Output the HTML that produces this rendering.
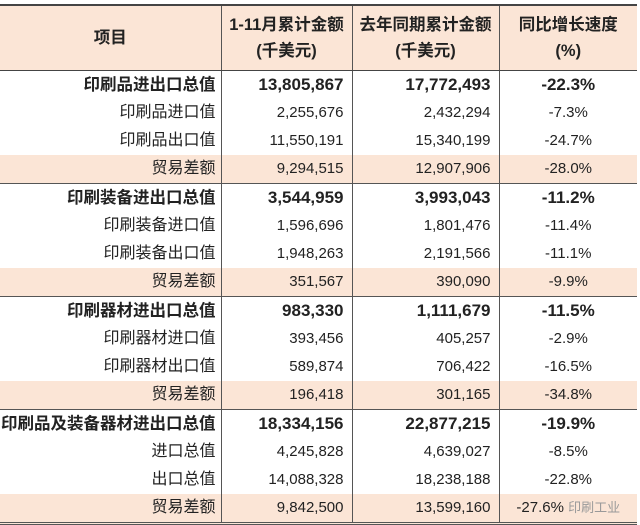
<!DOCTYPE html>
<html><head><meta charset="utf-8"><style>
body{margin:0;background:#fff;width:640px;height:523px;overflow:hidden;font-family:"Liberation Sans","Noto Sans CJK SC",sans-serif;color:#222}
table{position:absolute;left:0;top:4px;width:637px;border-collapse:collapse;table-layout:fixed}
td{padding:0;height:28px;font-size:15px;line-height:28px;white-space:nowrap}
col.c0{width:221px}col.c1{width:131px}col.c2{width:147px}col.c3{width:138px}
td:nth-child(1){text-align:right;padding-right:5px;border-right:1.5px solid #555;font-size:16px}
td:nth-child(2){text-align:right;padding-right:8px;border-right:1.5px solid #555}
td:nth-child(3){text-align:right;padding-right:8px;border-right:1.5px solid #555}
td:nth-child(4){text-align:center}
tr.h td{height:64px;background:#fbe5d6;font-weight:bold;text-align:center;line-height:26px;padding:0;border-top:2px solid #444;border-bottom:1.5px solid #444;font-size:16.5px}
tr.b td{font-weight:bold;font-size:17px}
tr.b td:nth-child(1){font-size:16.5px}
tr.p td{background:#fbe5d6}
tr.e td{border-bottom:1.5px solid #555}
tr.last td{border-bottom:3px double #555}
</style></head><body>
<table>
<colgroup><col class="c0"><col class="c1"><col class="c2"><col class="c3"></colgroup>
<tr class="h"><td style="text-align:center;padding:0">项目</td><td>1-11月累计金额<br>(千美元)</td><td>去年同期累计金额<br>(千美元)</td><td>同比增长速度<br>(%)</td></tr>
<tr class="b"><td>印刷品进出口总值</td><td>13,805,867</td><td>17,772,493</td><td>-22.3%</td></tr>
<tr><td>印刷品进口值</td><td>2,255,676</td><td>2,432,294</td><td>-7.3%</td></tr>
<tr><td>印刷品出口值</td><td>11,550,191</td><td>15,340,199</td><td>-24.7%</td></tr>
<tr class="p e"><td>贸易差额</td><td>9,294,515</td><td>12,907,906</td><td>-28.0%</td></tr>
<tr class="b"><td>印刷装备进出口总值</td><td>3,544,959</td><td>3,993,043</td><td>-11.2%</td></tr>
<tr><td>印刷装备进口值</td><td>1,596,696</td><td>1,801,476</td><td>-11.4%</td></tr>
<tr><td>印刷装备出口值</td><td>1,948,263</td><td>2,191,566</td><td>-11.1%</td></tr>
<tr class="p e"><td>贸易差额</td><td>351,567</td><td>390,090</td><td>-9.9%</td></tr>
<tr class="b"><td>印刷器材进出口总值</td><td>983,330</td><td>1,111,679</td><td>-11.5%</td></tr>
<tr><td>印刷器材进口值</td><td>393,456</td><td>405,257</td><td>-2.9%</td></tr>
<tr><td>印刷器材出口值</td><td>589,874</td><td>706,422</td><td>-16.5%</td></tr>
<tr class="p e"><td>贸易差额</td><td>196,418</td><td>301,165</td><td>-34.8%</td></tr>
<tr class="b"><td>印刷品及装备器材进出口总值</td><td>18,334,156</td><td>22,877,215</td><td>-19.9%</td></tr>
<tr><td>进口总值</td><td>4,245,828</td><td>4,639,027</td><td>-8.5%</td></tr>
<tr><td>出口总值</td><td>14,088,328</td><td>18,238,188</td><td>-22.8%</td></tr>
<tr class="p last"><td>贸易差额</td><td>9,842,500</td><td>13,599,160</td><td>-27.6% <span style="color:#999;font-size:13px">印刷工业</span></td></tr>
</table>
</body></html>
